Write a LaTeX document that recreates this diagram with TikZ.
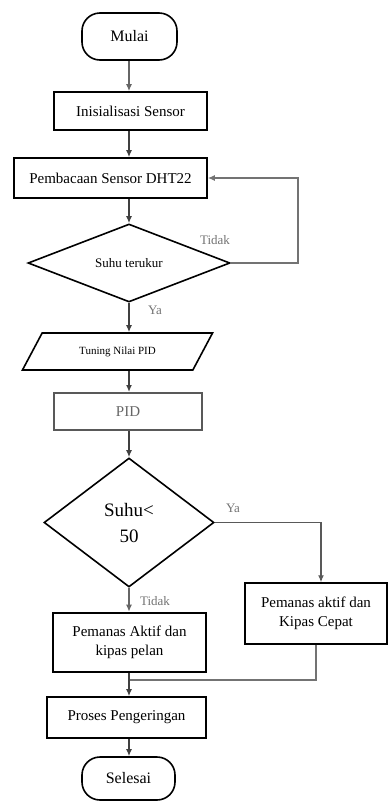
\documentclass[tikz,border=0pt]{standalone}
\usepackage{fontspec}
\setmainfont{Liberation Serif}
\usetikzlibrary{shapes.geometric,arrows.meta}
\begin{document}
\begin{tikzpicture}[x=1pt,y=-1pt,
    box/.style={draw, rectangle, line width=1.6pt, align=center, inner sep=0pt,
      font=\fontsize{15}{19}\selectfont},
    ujung/.style={box, rounded corners=18pt, font=\fontsize{16}{19}\selectfont},
    belah/.style={draw, diamond, line width=1.6pt, align=center, inner sep=0pt},
    miring/.style={draw, trapezium, trapezium left angle=45, trapezium right angle=135,
      trapezium stretches=true, line width=1.6pt, inner sep=0pt,
      font=\fontsize{11}{13}\selectfont},
    lbl/.style={text=black!55, font=\fontsize{13}{15}\selectfont, inner sep=0pt},
    panah/.style={-{Latex[length=7pt,width=6pt]}, line width=1.3pt, draw=black!75},
    garis/.style={line width=1.3pt, draw=black!75}]
  \useasboundingbox (0,0) rectangle (388,801);

  \node[ujung, minimum width=95pt, minimum height=47pt] (mulai) at (129.5,36.5) {Mulai};
  \node[box, minimum width=153pt, minimum height=38pt] (init) at (130.5,111) {Inisialisasi Sensor};
  \node[box, minimum width=193pt, minimum height=40pt] (baca) at (110.5,178) {Pembacaan Sensor DHT22};
  \node[belah, minimum width=202pt, minimum height=78pt, font=\fontsize{13}{15}\selectfont] (ukur) at (129,263) {Suhu terukur};
  \node[miring, minimum width=191pt, minimum height=37pt] (tuning) at (117.5,351.5) {Tuning Nilai PID};
  \node[box, draw=black!65, text=black!60, line width=2pt, minimum width=148pt, minimum height=37pt] (pid) at (128,411.5) {PID};
  \node[belah, minimum width=170pt, minimum height=129pt, font=\fontsize{19}{26}\selectfont] (cek) at (129,522.5) {Suhu<\\50};
  \node[box, line width=1.4pt, minimum width=142pt, minimum height=61pt] (cepat) at (316,613.5) {Pemanas aktif dan\\Kipas Cepat};
  \node[box, line width=2.6pt, minimum width=153pt, minimum height=59pt] (pelan) at (129.5,642.5) {Pemanas Aktif dan\\kipas pelan};
  \node[box, minimum width=159pt, minimum height=41pt] (proses) at (126.5,717.5) {Proses Pengeringan};
  \node[ujung, minimum width=93pt, minimum height=43pt] (selesai) at (128.5,778.5) {Selesai};

  \coordinate (balik) at (298,263);
  \coordinate (gabung) at (129,680);

  \draw[panah, draw=black!60] (mulai.south -| ukur.north) -- (ukur.north |- init.north);
  \draw[panah] (init.south -| ukur.north) -- (ukur.north |- baca.north);
  \draw[panah] (baca.south -| ukur.north) -- (ukur.north);
  \draw[panah, draw=black!55] (ukur.east) -- (balik) |- (baca.east);
  \node[lbl] (tidak1) at (215,240) {Tidak};
  \draw[panah] (ukur.south) -- (ukur.south |- tuning.north);
  \node[lbl] (ya1) at (155,310) {Ya};
  \draw[panah] (tuning.south -| ukur.south) -- (ukur.south |- pid.north);
  \draw[panah] (pid.south -| cek.north) -- (cek.north);
  \draw[panah, draw=black!65] (cek.east) -| ([xshift=5pt]cepat.north);
  \node[lbl] (ya2) at (233,508) {Ya};
  \draw[panah, draw=black!60] (cek.south) -- (cek.south |- pelan.north);
  \node[lbl] (tidak2) at (155,601) {Tidak};
  \draw[garis, draw=black!55] (cepat.south) |- (gabung);
  \draw[panah] (pelan.south -| gabung) -- (gabung |- proses.north);
  \draw[panah] (proses.south -| gabung) -- (gabung |- selesai.north);
\end{tikzpicture}
\end{document}
